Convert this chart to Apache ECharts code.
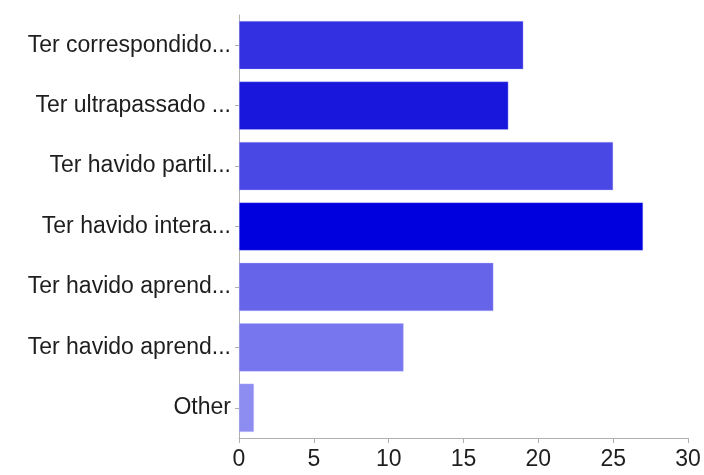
<!DOCTYPE html>
<html>
<head>
<meta charset="utf-8">
<script src="https://cdn.jsdelivr.net/npm/echarts@6/dist/echarts.min.js"></script>
<style>html,body{margin:0;padding:0;background:#fff;}#c{width:704px;height:475px;}</style>
</head>
<body>
<div id="c"></div>
<script>
var categories = ["Ter correspondido...", "Ter ultrapassado ...", "Ter havido partil...", "Ter havido intera...", "Ter havido aprend...", "Ter havido aprend...", "Other"];
var values = [19, 18, 25, 27, 17, 11, 1];
var colors = ["#3330e1", "#1a17dc", "#4a48e4", "#0000de", "#6664e9", "#7776ee", "#8d8cf1"];
var xTicks = [0, 5, 10, 15, 20, 25, 30];

var chart = echarts.init(document.getElementById('c'), null, {renderer: 'canvas'});
chart.setOption({
  animation: false,
  grid: {left: 239, right: 16, top: 15, bottom: 37, containLabel: false},
  xAxis: {
    type: 'value', min: xTicks[0], max: xTicks[xTicks.length - 1], interval: 5,
    axisLine: {show: true, lineStyle: {color: '#b0b0b0', width: 1}},
    axisTick: {show: true, length: 5, lineStyle: {color: '#b0b0b0'}},
    splitLine: {show: false},
    axisLabel: {color: '#1e1e1e', fontSize: 23, fontFamily: 'Liberation Sans, Arial, sans-serif', margin: 10}
  },
  yAxis: {
    type: 'category', data: categories, inverse: true,
    axisLine: {show: true, lineStyle: {color: '#b0b0b0', width: 1}},
    axisTick: {show: true, alignWithLabel: true, length: 4, lineStyle: {color: '#b0b0b0'}},
    axisLabel: {color: '#1e1e1e', fontSize: 23, fontFamily: 'Liberation Sans, Arial, sans-serif', margin: 8}
  },
  series: [{
    type: 'bar',
    barCategoryGap: '20%',
    data: values.map(function (v, i) {
      return {value: v, itemStyle: {color: colors[i], borderColor: 'rgba(180,180,255,0.6)', borderWidth: 0.6}};
    })
  }]
});
</script>
</body>
</html>
